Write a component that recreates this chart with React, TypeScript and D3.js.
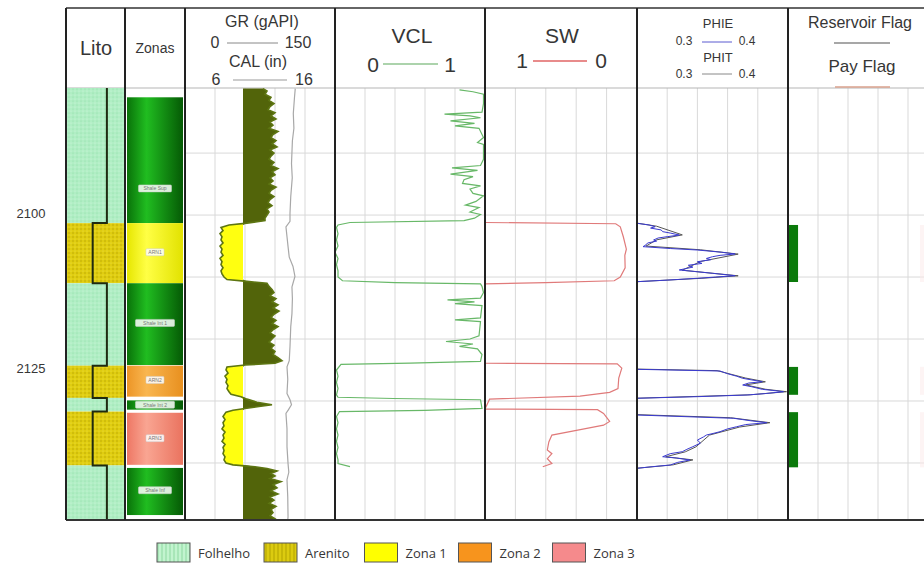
import React from 'react';
import * as d3 from 'd3';

// depth window shown in the log (m)
const depthTop = 2079.5;
const depthBase = 2149.2;
const depthLabels = [2100, 2125];

// lithology column
const lithoTop = [2079.5, 2101.3, 2111.0, 2124.3, 2129.5, 2131.7, 2140.4];
const lithoBase = [2101.3, 2111.0, 2124.3, 2129.5, 2131.7, 2140.4, 2149.2];
const lithoType = ['Folhelho', 'Arenito', 'Folhelho', 'Arenito', 'Folhelho', 'Arenito', 'Folhelho'];
const lithoIndex: Record<string, number> = { Folhelho: 0.705, Arenito: 0.46 };

// zones
const zoneNames = ['Shale Sup', 'ARN1', 'Shale Int 1', 'ARN2', 'Shale Int 2', 'ARN3', 'Shale Inf'];
const zoneKind = ['shale', 'zona1', 'shale', 'zona2', 'shale', 'zona3', 'shale'];
const zoneTop = [2081.0, 2101.3, 2111.0, 2124.3, 2129.9, 2131.9, 2140.8];
const zoneBase = [2101.3, 2111.0, 2124.2, 2129.3, 2131.4, 2140.3, 2148.4];
const zoneLabelDepth = [2095.7, 2106.0, 2117.4, 2126.6, 2130.6, 2136.0, 2144.4];

// GR (gAPI) [depth, value]
const grCutoff = 58;
const grLog: [number, number][] = [
  [2079.6, 78], [2080.0, 82], [2080.5, 80], [2081.0, 86], [2081.5, 84], [2082.0, 89], [2082.5, 85],
  [2083.0, 83], [2083.5, 90], [2084.0, 86], [2084.5, 91], [2085.0, 85], [2085.5, 88], [2086.0, 84],
  [2086.5, 93], [2087.0, 88], [2087.5, 86], [2088.0, 91], [2088.5, 87], [2089.0, 92], [2089.5, 85],
  [2090.0, 89], [2090.5, 86], [2091.0, 84], [2091.5, 89], [2092.0, 86], [2092.5, 93], [2093.0, 87],
  [2093.5, 90], [2094.0, 85], [2094.5, 88], [2095.0, 84], [2095.5, 91], [2096.0, 86], [2096.5, 84],
  [2097.0, 89], [2097.5, 85], [2098.0, 83], [2098.5, 87], [2099.0, 82], [2099.5, 84], [2100.0, 82],
  [2100.5, 80], [2100.9, 80], [2101.3, 62], [2101.6, 44], [2102.0, 36], [2102.5, 38], [2103.0, 35],
  [2103.5, 37], [2104.0, 36], [2104.5, 38], [2105.0, 35], [2105.5, 37], [2106.0, 36], [2106.5, 38],
  [2107.0, 35], [2107.5, 37], [2108.0, 36], [2108.5, 38], [2109.0, 36], [2109.5, 37], [2110.0, 39],
  [2110.4, 42], [2110.7, 62], [2111.0, 82], [2111.5, 84], [2112.0, 87], [2112.5, 89], [2113.0, 85],
  [2113.5, 91], [2114.0, 87], [2114.5, 93], [2115.0, 88], [2115.5, 94], [2116.0, 89], [2116.5, 86],
  [2117.0, 91], [2117.5, 87], [2118.0, 93], [2118.5, 88], [2119.0, 85], [2119.5, 90], [2120.0, 87],
  [2120.5, 84], [2121.0, 89], [2121.5, 86], [2122.0, 90], [2122.5, 88], [2123.0, 93], [2123.5, 97],
  [2123.9, 90], [2124.2, 60], [2124.5, 42], [2125.0, 41], [2125.5, 43], [2126.0, 40], [2126.5, 42],
  [2127.0, 41], [2127.5, 43], [2128.0, 42], [2128.5, 44], [2128.9, 46], [2129.3, 56], [2129.7, 62],
  [2130.2, 72], [2130.6, 87], [2130.9, 74], [2131.2, 60], [2131.5, 48], [2131.8, 41], [2132.5, 38],
  [2133.0, 40], [2133.5, 38], [2134.0, 39], [2134.5, 37], [2135.0, 40], [2135.5, 38], [2136.0, 39],
  [2136.5, 37], [2137.0, 40], [2137.5, 38], [2138.0, 39], [2138.5, 38], [2139.0, 40], [2139.5, 39],
  [2140.0, 41], [2140.3, 48], [2140.6, 70], [2140.9, 82], [2141.3, 92], [2141.7, 86], [2142.1, 90],
  [2142.5, 85], [2143.0, 96], [2143.5, 88], [2144.0, 92], [2144.5, 86], [2145.0, 93], [2145.5, 85],
  [2146.0, 89], [2146.5, 84], [2147.0, 91], [2147.5, 86], [2148.0, 88], [2148.5, 85], [2149.0, 90],
  [2149.2, 88],
];

// CAL (in)
const calLog: [number, number][] = [
  [2079.6, 13.35], [2081.0, 13.3], [2083.6, 13.22], [2086.0, 13.26], [2088.0, 13.16], [2091.7, 13.1],
  [2094.0, 13.15], [2097.0, 13.05], [2099.7, 13.0], [2101.0, 13.0], [2101.9, 12.73], [2103.5, 12.8],
  [2105.1, 12.87], [2106.8, 12.95], [2108.3, 13.2], [2109.9, 13.33], [2111.0, 13.2], [2111.6, 13.13],
  [2113.5, 13.16], [2115.9, 13.13], [2118.0, 13.05], [2121.2, 13.0], [2123.5, 12.95], [2124.5, 12.8],
  [2126.5, 12.85], [2128.8, 12.8], [2129.8, 13.0], [2130.6, 13.1], [2131.4, 12.9], [2132.0, 12.73],
  [2134.5, 12.8], [2137.4, 12.8], [2140.1, 12.87], [2141.5, 12.92], [2142.7, 12.8], [2145.5, 12.85],
  [2148.7, 12.87], [2149.2, 12.85],
];

// VCL (v/v)
const vclLog: [number, number][] = [
  [2079.8, 0.83], [2080.1, 0.92], [2080.5, 0.99], [2082.0, 0.99], [2083.4, 0.98], [2083.7, 0.73],
  [2084.0, 0.9], [2084.3, 0.97], [2084.8, 0.77], [2085.2, 0.93], [2085.6, 0.8], [2086.0, 0.96],
  [2087.5, 0.99], [2088.3, 0.95], [2088.6, 0.99], [2091.0, 0.99], [2092.0, 0.97], [2092.4, 0.78],
  [2092.8, 0.95], [2093.4, 0.77], [2093.8, 0.92], [2094.3, 0.86], [2094.9, 0.85], [2095.3, 0.97],
  [2095.8, 0.9], [2096.5, 0.92], [2096.9, 0.99], [2097.8, 0.94], [2098.4, 0.87], [2098.8, 0.96],
  [2099.5, 0.9], [2099.9, 0.97], [2100.5, 0.93], [2100.9, 0.86], [2101.2, 0.1], [2101.6, 0.02],
  [2102.0, 0.01], [2103.0, 0.02], [2104.0, 0.01], [2105.0, 0.02], [2106.0, 0.0], [2107.0, 0.02],
  [2108.0, 0.01], [2109.0, 0.02], [2110.0, 0.02], [2110.6, 0.05], [2110.9, 0.4], [2111.1, 0.97],
  [2111.5, 0.98], [2112.5, 0.99], [2113.4, 0.97], [2113.7, 0.75], [2114.0, 0.93], [2114.3, 0.8],
  [2114.6, 0.98], [2116.6, 0.97], [2116.9, 0.8], [2117.2, 0.97], [2119.5, 0.96], [2120.0, 0.9],
  [2120.4, 0.74], [2120.8, 0.92], [2121.2, 0.83], [2121.6, 0.95], [2122.5, 0.98], [2123.6, 0.97],
  [2123.9, 0.5], [2124.1, 0.04], [2125.0, 0.01], [2126.0, 0.02], [2127.0, 0.01], [2128.0, 0.02],
  [2129.0, 0.01], [2129.4, 0.02], [2129.6, 0.39], [2129.8, 0.97], [2131.2, 0.98], [2131.5, 0.6],
  [2131.7, 0.03], [2132.5, 0.01], [2133.5, 0.02], [2134.5, 0.01], [2135.5, 0.02], [2136.5, 0.01],
  [2137.5, 0.02], [2138.5, 0.01], [2139.5, 0.02], [2140.1, 0.02], [2140.6, 0.1],
];

// SW (v/v), plotted 1 -> 0
const swLog: [number, number][] = [
  [2101.2, 1], [2101.4, 0.14], [2101.9, 0.11], [2103.5, 0.09], [2105.5, 0.07], [2106.5, 0.08],
  [2108.5, 0.078], [2110.0, 0.11], [2110.6, 0.15], [2110.9, 0.6], [2111.1, 1], [2123.9, 1],
  [2124.0, 0.13], [2124.7, 0.1], [2126.3, 0.12], [2128.0, 0.125], [2128.6, 0.18], [2129.2, 0.375],
  [2129.7, 0.97], [2131.3, 1], [2131.4, 0.26], [2132.0, 0.22], [2133.3, 0.18], [2133.9, 0.22],
  [2134.7, 0.39], [2135.5, 0.56], [2136.6, 0.58], [2137.9, 0.59], [2138.5, 0.56], [2139.3, 0.59],
  [2140.1, 0.56], [2140.6, 0.62],
];

// PHIE / PHIT (v/v)
const phieLog: [number, number][] = [
  [2101.33, 0.300], [2101.6, 0.308], [2101.88, 0.312], [2102.1, 0.309], [2102.4, 0.316], [2102.68, 0.317],
  [2102.9, 0.322], [2103.22, 0.328], [2103.49, 0.320], [2103.7, 0.314], [2104.02, 0.311], [2104.2, 0.313],
  [2104.51, 0.307], [2104.8, 0.306], [2105.1, 0.304], [2105.4, 0.322], [2105.64, 0.340], [2106.0, 0.356],
  [2106.28, 0.365], [2106.5, 0.355], [2106.72, 0.350], [2107.0, 0.346], [2107.2, 0.349], [2107.53, 0.340],
  [2107.8, 0.343], [2108.1, 0.334], [2108.4, 0.337], [2108.86, 0.328], [2109.1, 0.338], [2109.4, 0.350],
  [2109.78, 0.365], [2110.0, 0.352], [2110.2, 0.340], [2110.5, 0.320], [2110.75, 0.300],
  [2124.89, 0.300], [2125.16, 0.355], [2125.6, 0.360], [2126.0, 0.366], [2126.34, 0.370], [2126.6, 0.376],
  [2126.89, 0.383], [2127.1, 0.374], [2127.42, 0.370], [2127.7, 0.376], [2128.12, 0.383], [2128.3, 0.390],
  [2128.5, 0.397], [2128.8, 0.385], [2129.03, 0.373], [2129.3, 0.340], [2129.56, 0.300],
  [2132.26, 0.300], [2132.79, 0.364], [2133.0, 0.370], [2133.18, 0.375], [2133.5, 0.386], [2133.8, 0.372],
  [2134.15, 0.366], [2134.5, 0.360], [2134.95, 0.355], [2135.2, 0.351], [2135.49, 0.346], [2135.8, 0.344],
  [2136.3, 0.340], [2136.8, 0.342], [2137.37, 0.337], [2137.8, 0.333], [2138.18, 0.330], [2138.5, 0.322],
  [2138.99, 0.317], [2139.2, 0.326], [2139.52, 0.335], [2139.9, 0.327], [2140.33, 0.322], [2140.6, 0.310],
  [2140.86, 0.300],
];
const phitLog: [number, number][] = [
  [2101.3, 0.300], [2101.8, 0.313], [2103.2, 0.330], [2104.0, 0.313], [2105.0, 0.306], [2105.6, 0.342],
  [2106.3, 0.367], [2107.5, 0.342], [2108.9, 0.330], [2109.8, 0.367], [2110.2, 0.343], [2110.75, 0.300],
  [2124.85, 0.300], [2125.1, 0.353], [2126.3, 0.372], [2126.9, 0.385], [2127.4, 0.372], [2128.1, 0.385],
  [2128.5, 0.399], [2129.0, 0.375], [2129.55, 0.300],
  [2132.2, 0.300], [2132.7, 0.362], [2133.5, 0.388], [2134.2, 0.368], [2135.5, 0.348], [2137.4, 0.339],
  [2138.2, 0.332], [2139.0, 0.319], [2139.5, 0.337], [2140.3, 0.324], [2140.85, 0.300],
];

// flags
const flagTop = [2101.6, 2124.5, 2131.8];
const flagBase = [2110.8, 2129.0, 2140.7];

// legend
const legendNames = ['Folhelho', 'Arenito', 'Zona 1', 'Zona 2', 'Zona 3'];

const W = 924;
const H = 567;
const HEAD_TOP = 8;
const DATA_TOP = 88;
const DATA_BOT = 520;
const tracks: Record<string, [number, number]> = {
  lito: [66, 125], zonas: [125, 185], gr: [185, 335], vcl: [335, 485],
  sw: [485, 637], phi: [637, 788], flag: [788, 938],
};
const HFONT = '"Liberation Sans", Arial, sans-serif';
const TXT = '#363636';

const zoneColors: Record<string, [string, string, string]> = {
  shale: ['#097209', '#20bd20', '#055a05'],
  zona1: ['#e6e600', '#ffff45', '#e2e200'],
  zona2: ['#ec9526', '#f9b650', '#e8901f'],
  zona3: ['#ee7764', '#f9a592', '#ea735f'],
};
const legendFills = ['url(#legFol)', 'url(#legAre)', '#ffff00', '#f7941d', '#f58a8c'];

export default function App() {
  const y = d3.scaleLinear().domain([depthTop, depthBase]).range([DATA_TOP, DATA_BOT]);
  const xLito = d3.scaleLinear().domain([0, 1]).range([66, 124]);
  const xGR = d3.scaleLinear().domain([0, 150]).range(tracks.gr);
  const xCAL = d3.scaleLinear().domain([6, 16]).range(tracks.gr);
  const xVCL = d3.scaleLinear().domain([0, 1]).range(tracks.vcl);
  const xSW = d3.scaleLinear().domain([1, 0]).range(tracks.sw);
  const xPHI = d3.scaleLinear().domain([0.3, 0.4]).range(tracks.phi).clamp(true);
  const xFlag = d3.scaleLinear().domain([0, 1]).range(tracks.flag);

  const gridDepths = d3.range(2090, 2150, 10);
  const gridTracks = ['gr', 'vcl', 'sw', 'phi', 'flag'];

  const curve = (xs: d3.ScaleLinear<number, number>) =>
    d3.line<[number, number]>().x(d => xs(d[1])).y(d => y(d[0]));

  const shaleArea = d3.area<[number, number]>()
    .y(d => y(d[0]))
    .x0(xGR(grCutoff))
    .x1(d => xGR(Math.max(d[1], grCutoff)));
  const sandArea = d3.area<[number, number]>()
    .y(d => y(d[0]))
    .x0(d => xGR(Math.min(d[1], grCutoff)))
    .x1(xGR(grCutoff));

  const lithoStep: [number, number][] = [];
  lithoType.forEach((t, i) => {
    lithoStep.push([lithoTop[i], lithoIndex[t]], [lithoBase[i], lithoIndex[t]]);
  });
  const lithoLine = d3.line<[number, number]>().x(d => xLito(d[1])).y(d => y(d[0]));

  // legend layout
  let lx = 157;
  const legendItems = legendNames.map((name, i) => {
    const item = { name, x: lx, fill: legendFills[i] };
    lx += 33 + 8 + name.length * 6.5 + 14;
    return item;
  });

  const edges = [66, 125, 185, 335, 485, 637, 788];

  return (
    <svg width={W} height={H} style={{ position: 'absolute', left: 0, top: 0, background: '#fff' }}>
      <defs>
        <pattern id="patFol" width="4" height="4" patternUnits="userSpaceOnUse">
          <rect width="4" height="4" fill="#b0eec4" />
          <circle cx="1" cy="1" r="0.6" fill="#8fdca6" />
          <circle cx="3" cy="3" r="0.6" fill="#d4f8de" />
        </pattern>
        <pattern id="patAre" width="4" height="4" patternUnits="userSpaceOnUse">
          <rect width="4" height="4" fill="#e0cd10" />
          <circle cx="1" cy="1" r="0.7" fill="#b5a200" />
          <circle cx="3" cy="3" r="0.6" fill="#f2e44a" />
        </pattern>
        <pattern id="legFol" width="4" height="4" patternUnits="userSpaceOnUse">
          <rect width="4" height="4" fill="#c2f4cf" />
          <line x1="2" y1="0" x2="2" y2="4" stroke="#8ed8a2" strokeWidth="1" />
        </pattern>
        <pattern id="legAre" width="4" height="4" patternUnits="userSpaceOnUse">
          <rect width="4" height="4" fill="#dccb10" />
          <line x1="2" y1="0" x2="2" y2="4" stroke="#b3a400" strokeWidth="1" />
        </pattern>
        {Object.entries(zoneColors).map(([k, c]) => (
          <linearGradient key={k} id={`zg-${k}`} x1="0" x2="1" y1="0" y2="0">
            <stop offset="0" stopColor={c[0]} />
            <stop offset="0.35" stopColor={c[1]} />
            <stop offset="1" stopColor={c[2]} />
          </linearGradient>
        ))}
        {Object.entries(tracks).map(([k, r]) => (
          <clipPath key={k} id={`clip-${k}`}>
            <rect x={r[0]} y={DATA_TOP} width={r[1] - r[0]} height={DATA_BOT - DATA_TOP} />
          </clipPath>
        ))}
      </defs>

      {/* grid */}
      <g stroke="#d9d9d9" strokeWidth={1}>
        {gridTracks.map(k => {
          const s = d3.scaleLinear().domain([0, 5]).range(tracks[k]);
          return d3.range(1, 5).map(i => (
            <line key={`${k}-${i}`} x1={s(i)} x2={s(i)} y1={DATA_TOP} y2={DATA_BOT} />
          ));
        })}
        {gridDepths.map(d => (
          <line key={d} x1={tracks.zonas[1]} x2={W} y1={y(d)} y2={y(d)} />
        ))}
        <line x1={66} x2={W} y1={DATA_TOP} y2={DATA_TOP} stroke="#b5b5b5" />
      </g>

      {/* lithology */}
      {lithoType.map((t, i) => (
        <rect key={i} x={66} width={124 - 66} y={y(lithoTop[i])} height={y(lithoBase[i]) - y(lithoTop[i])}
          fill={t === 'Folhelho' ? 'url(#patFol)' : 'url(#patAre)'} />
      ))}
      <path d={lithoLine(lithoStep) ?? ''} fill="none" stroke="#1f2a10" strokeWidth={2} />

      {/* zones */}
      {zoneNames.map((z, i) => {
        const ly = y(zoneLabelDepth[i]);
        const bw = z.length * 3 + 6;
        return (
          <g key={z}>
            <rect x={127} width={56} y={y(zoneTop[i])} height={y(zoneBase[i]) - y(zoneTop[i])}
              fill={`url(#zg-${zoneKind[i]})`} />
            <rect x={155 - bw / 2} y={ly - 3.5} width={bw} height={7} rx={1} fill="#fff" fillOpacity={0.85}
              stroke="#cfcfcf" strokeWidth={0.5} />
            <text x={155} y={ly + 1.8} textAnchor="middle" fontSize={5} fontFamily={HFONT} fill="#777">{z}</text>
          </g>
        );
      })}

      {/* GR + CAL */}
      <g clipPath="url(#clip-gr)">
        <path d={shaleArea(grLog) ?? ''} fill="#52640a" />
        <path d={sandArea(grLog) ?? ''} fill="#ffff10" />
        <path d={curve(xGR)(grLog) ?? ''} fill="none" stroke="#5d7512" strokeWidth={1.6} />
        <path d={curve(xCAL)(calLog) ?? ''} fill="none" stroke="#a8a8a8" strokeWidth={1.2} />
      </g>

      {/* VCL */}
      <g clipPath="url(#clip-vcl)">
        <path d={curve(xVCL)(vclLog) ?? ''} fill="none" stroke="#68b868" strokeWidth={1.2} />
      </g>

      {/* SW */}
      <g clipPath="url(#clip-sw)">
        <path d={curve(xSW)(swLog) ?? ''} fill="none" stroke="#e07a7a" strokeWidth={1.2} />
      </g>

      {/* PHIT / PHIE */}
      <g clipPath="url(#clip-phi)">
        <path d={curve(xPHI)(phitLog) ?? ''} fill="none" stroke="#555" strokeWidth={1} />
        <path d={curve(xPHI)(phieLog) ?? ''} fill="none" stroke="#3a3ad0" strokeWidth={1} />
      </g>

      {/* flags */}
      <g clipPath="url(#clip-flag)">
        {flagTop.map((t, i) => (
          <g key={i}>
            <rect x={xFlag(0)} width={xFlag(0.067) - xFlag(0)} y={y(t)} height={y(flagBase[i]) - y(t)} fill="#0b7a0b" />
            <rect x={xFlag(0.88)} width={xFlag(1) - xFlag(0.88)} y={y(t)} height={y(flagBase[i]) - y(t)} fill="#fbeaea" fillOpacity={0.5} />
          </g>
        ))}
      </g>

      {/* track frames */}
      <line x1={66} x2={W} y1={HEAD_TOP} y2={HEAD_TOP} stroke="#333" strokeWidth={1.5} />
      <line x1={66} x2={W} y1={DATA_BOT} y2={DATA_BOT} stroke="#333" strokeWidth={2} />
      {edges.map(x => (
        <line key={x} x1={x} x2={x} y1={HEAD_TOP} y2={DATA_BOT} stroke="#222" strokeWidth={2} />
      ))}

      {/* depth labels */}
      {depthLabels.map(d => (
        <text key={d} x={31} y={y(d) + 3} textAnchor="middle" fontSize={13} fontFamily={HFONT} fill={TXT}>{d}</text>
      ))}

      {/* headers */}
      <g fontFamily={HFONT} fill={TXT} textAnchor="middle">
        <text x={96} y={55} fontSize={20}>Lito</text>
        <text x={155} y={53} fontSize={14}>Zonas</text>

        <text x={262} y={27} fontSize={16}>GR (gAPI)</text>
        <text x={215} y={48} fontSize={16}>0</text>
        <text x={298} y={48} fontSize={16}>150</text>
        <line x1={227} x2={278} y1={43} y2={43} stroke="#888" strokeWidth={1} />
        <text x={258} y={67} fontSize={16}>CAL (in)</text>
        <text x={216} y={85} fontSize={16}>6</text>
        <text x={304} y={85} fontSize={16}>16</text>
        <line x1={233} x2={287} y1={80} y2={80} stroke="#999" strokeWidth={1} />

        <text x={412} y={43} fontSize={21}>VCL</text>
        <text x={373} y={72} fontSize={21}>0</text>
        <line x1={383} x2={438} y1={64} y2={64} stroke="#5aa85a" strokeWidth={1.2} />
        <text x={450} y={72} fontSize={21}>1</text>

        <text x={562} y={43} fontSize={21}>SW</text>
        <text x={522} y={68} fontSize={21}>1</text>
        <line x1={533} x2={587} y1={61} y2={61} stroke="#e06565" strokeWidth={1.4} />
        <text x={601} y={68} fontSize={21}>0</text>

        <text x={718} y={28} fontSize={13}>PHIE</text>
        <text x={684} y={45} fontSize={12}>0.3</text>
        <line x1={702} x2={732} y1={42} y2={42} stroke="#5a5ad0" strokeWidth={1} />
        <text x={747} y={45} fontSize={12}>0.4</text>
        <text x={718} y={62} fontSize={13}>PHIT</text>
        <text x={684} y={78} fontSize={12}>0.3</text>
        <line x1={702} x2={732} y1={74} y2={74} stroke="#888" strokeWidth={1} />
        <text x={747} y={78} fontSize={12}>0.4</text>

        <text x={860} y={28} fontSize={16}>Reservoir Flag</text>
        <line x1={834} x2={890} y1={43} y2={43} stroke="#8a8a8a" strokeWidth={1.5} />
        <text x={862} y={72} fontSize={17}>Pay Flag</text>
        <line x1={835} x2={890} y1={87} y2={87} stroke="#d8a08c" strokeWidth={1.5} />
      </g>

      {/* legend */}
      <g fontFamily='"Open Sans", sans-serif' fontSize={13} fill={TXT}>
        {legendItems.map(it => (
          <g key={it.name}>
            <rect x={it.x} y={543} width={33} height={19} fill={it.fill} stroke="#555" strokeWidth={1} />
            <text x={it.x + 41} y={558}>{it.name}</text>
          </g>
        ))}
      </g>
    </svg>
  );
}
